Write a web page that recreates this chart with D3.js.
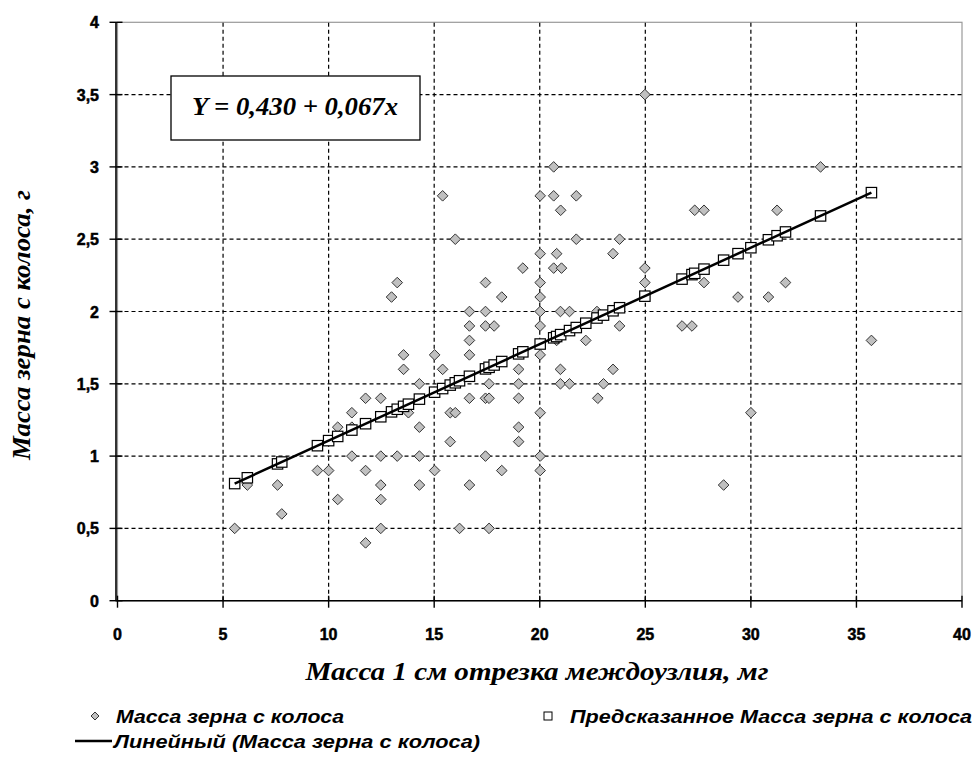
<!DOCTYPE html>
<html><head><meta charset="utf-8">
<script src="https://cdn.jsdelivr.net/npm/d3@7"></script>
<style>body{margin:0;background:#fff}</style>
</head><body>
<svg id="c" width="975" height="773"></svg>
<script>
// Observed: Масса 1 см отрезка междоузлия (мг) vs Масса зерна с колоса (г)
const obsX = [5.55,6.15,7.58,7.78,9.47,10.0,10.43,10.43,11.1,11.1,11.1,11.75,11.75,11.75,12.47,12.47,12.47,12.47,12.47,12.98,
13.25,13.25,13.55,13.55,13.78,14.3,14.3,14.3,14.3,15.02,15.02,15.4,15.4,15.76,15.76,16.0,16.0,16.2,16.67,16.67,
16.67,16.67,16.67,16.67,17.43,17.43,17.43,17.43,17.43,17.6,17.6,17.6,17.84,18.2,18.2,19.0,19.0,19.0,19.0,19.0,
19.2,20.02,20.02,20.02,20.02,20.02,20.02,20.02,20.02,20.02,20.02,20.66,20.66,20.66,20.8,20.8,20.99,21.03,20.98,20.98,
20.98,21.41,21.41,21.73,21.73,22.18,22.71,22.75,23.02,23.47,23.47,23.78,23.78,24.98,24.98,24.98,26.74,27.21,27.34,27.78,
27.78,28.71,29.39,30.0,30.83,31.24,31.64,33.3,35.71];
const obsY = [0.5,0.8,0.8,0.6,0.9,0.9,0.7,1.2,1.0,1.2,1.3,0.9,0.4,1.4,1.4,1.0,0.8,0.7,0.5,2.1,
2.2,1.0,1.7,1.6,1.3,1.5,1.2,1.0,0.8,1.7,0.9,2.8,1.6,1.3,1.1,1.3,2.5,0.5,2.0,1.9,
1.8,1.7,1.4,0.8,2.2,2.0,1.9,1.4,1.0,1.5,1.4,0.5,1.9,2.1,0.9,1.6,1.5,1.4,1.2,1.1,
2.3,2.8,2.4,2.2,2.1,2.0,1.9,1.7,1.3,1.0,0.9,3.0,2.8,2.3,2.4,1.8,2.7,2.3,2.0,1.6,
1.5,2.0,1.5,2.8,2.5,1.8,2.0,1.4,1.5,2.4,1.6,2.5,1.9,3.5,2.3,2.2,1.9,1.9,2.7,2.7,
2.2,0.8,2.1,1.3,2.1,2.7,2.2,3.0,1.8];

// Predicted values (squares)
const predX = [5.55,6.15,7.58,7.78,9.47,10.0,10.43,11.1,11.75,12.47,12.98,13.25,13.55,13.78,14.3,15.02,15.4,15.76,16.0,16.2,
16.67,17.43,17.6,17.84,18.2,19.0,19.2,20.02,20.66,20.8,20.99,21.41,21.73,22.18,22.71,23.02,23.47,23.78,24.98,26.74,
27.21,27.34,27.78,28.71,29.39,30.0,30.83,31.24,31.64,33.3,35.71];
const predY = [0.81,0.85,0.946,0.959,1.072,1.107,1.136,1.18,1.224,1.272,1.306,1.324,1.344,1.359,1.394,1.442,1.467,1.491,1.507,1.521,
1.552,1.603,1.614,1.63,1.654,1.707,1.721,1.775,1.818,1.827,1.84,1.868,1.889,1.919,1.955,1.975,2.005,2.026,2.106,2.224,
2.255,2.264,2.293,2.355,2.4,2.441,2.496,2.524,2.55,2.661,2.822];

// Linear trend (endpoints)
const trendX = [5.55, 35.71];
const trendY = [0.81, 2.822];

const xTicks = [0,5,10,15,20,25,30,35,40];
const xTickLabels = ["0","5","10","15","20","25","30","35","40"];
const yTicks = [0,0.5,1,1.5,2,2.5,3,3.5,4];
const yTickLabels = ["0","0,5","1","1,5","2","2,5","3","3,5","4"];

const equation = "Y = 0,430 + 0,067x";
const xTitle = "Масса 1 см отрезка междоузлия, мг";
const yTitle = "Масса зерна с колоса, г";
const legendObs = "Масса зерна с колоса";
const legendPred = "Предсказанное Масса зерна с колоса";
const legendTrend = "Линейный (Масса зерна с колоса)";

const svg = d3.select("#c");
const x = d3.scaleLinear().domain([0,40]).range([117.5,962]);
const y = d3.scaleLinear().domain([0,4]).range([600.7,22.3]);
const sans = "Liberation Sans, Arial, sans-serif";
const serif = "Liberation Serif, Times New Roman, serif";

// Plot border (top/right gray)
svg.append("rect").attr("x",x(0)).attr("y",y(4)).attr("width",x(40)-x(0)).attr("height",y(0)-y(4))
  .attr("fill","none").attr("stroke","#999").attr("stroke-width",1.2);

// Gridlines
const g = svg.append("g");
g.selectAll(".vg").data(xTicks.filter(d=>d>0&&d<40)).join("line")
  .attr("x1",d=>x(d)).attr("x2",d=>x(d)).attr("y1",y(0)).attr("y2",y(4))
  .attr("stroke","#000").attr("stroke-width",1.2).attr("stroke-dasharray","4,3");
g.selectAll(".hg").data(yTicks.filter(d=>d>0&&d<4)).join("line")
  .attr("x1",x(0)).attr("x2",x(40)).attr("y1",d=>y(d)).attr("y2",d=>y(d))
  .attr("stroke","#000").attr("stroke-width",1.2).attr("stroke-dasharray","4,3");

// Axes lines
svg.append("line").attr("x1",x(0)-1.5).attr("x2",x(0)-1.5).attr("y1",y(0)).attr("y2",y(4)).attr("stroke","#000").attr("stroke-width",1.6);
svg.append("line").attr("x1",x(0)-2).attr("x2",x(40)).attr("y1",y(0)).attr("y2",y(0)).attr("stroke","#000").attr("stroke-width",1.6);

// Ticks (crossing)
svg.selectAll(".xt").data(xTicks).join("line")
  .attr("x1",d=>x(d)).attr("x2",d=>x(d)).attr("y1",y(0)-5).attr("y2",y(0)+7)
  .attr("stroke","#000").attr("stroke-width",1.4);
svg.selectAll(".yt").data(yTicks).join("line")
  .attr("x1",x(0)-8).attr("x2",x(0)+5).attr("y1",d=>y(d)).attr("y2",d=>y(d))
  .attr("stroke","#000").attr("stroke-width",1.4);

// Tick labels
svg.selectAll(".xl").data(xTicks).join("text")
  .attr("x",d=>x(d)).attr("y",y(0)+39).attr("text-anchor","middle")
  .attr("font-family",sans).attr("font-weight","bold").attr("font-size",16)
  .attr("stroke","#000").attr("stroke-width",0.5)
  .text((d,i)=>xTickLabels[i]);
svg.selectAll(".yl").data(yTicks).join("text")
  .attr("x",99).attr("y",d=>y(d)+6).attr("text-anchor","end")
  .attr("font-family",sans).attr("font-weight","bold").attr("font-size",16)
  .attr("stroke","#000").attr("stroke-width",0.5)
  .text((d,i)=>yTickLabels[i]);

// Observed diamonds
const dia = 5.3;
svg.append("g").selectAll("path").data(obsX.map((d,i)=>[d,obsY[i]])).join("path")
  .attr("d",d=>`M${x(d[0])},${y(d[1])-dia}L${x(d[0])+dia},${y(d[1])}L${x(d[0])},${y(d[1])+dia}L${x(d[0])-dia},${y(d[1])}Z`)
  .attr("fill","#c0c0c0").attr("stroke","#333").attr("stroke-width",1);

// Predicted squares
const sq = 5.2;
svg.append("g").selectAll("rect").data(predX.map((d,i)=>[d,predY[i]])).join("rect")
  .attr("x",d=>x(d[0])-sq).attr("y",d=>y(d[1])-sq).attr("width",2*sq).attr("height",2*sq)
  .attr("fill","#fff").attr("stroke","#000").attr("stroke-width",1.2);

// Trend line
svg.append("path").datum(trendX.map((d,i)=>[d,trendY[i]]))
  .attr("d",d3.line().x(d=>x(d[0])).y(d=>y(d[1])))
  .attr("stroke","#000").attr("stroke-width",2.5).attr("fill","none");

// Equation box
svg.append("rect").attr("x",171).attr("y",76).attr("width",249).attr("height",64)
  .attr("fill","#fff").attr("stroke","#000").attr("stroke-width",1.3);
svg.append("text").attr("x",295).attr("y",115).attr("text-anchor","middle")
  .attr("font-family",serif).attr("font-weight","bold").attr("font-style","italic")
  .attr("font-size",25).attr("textLength",206).attr("lengthAdjust","spacingAndGlyphs").text(equation);

// Axis titles
svg.append("text").attr("x",537).attr("y",680).attr("text-anchor","middle")
  .attr("font-family",serif).attr("font-weight","bold").attr("font-style","italic")
  .attr("font-size",25).attr("textLength",463).attr("lengthAdjust","spacingAndGlyphs").text(xTitle);
svg.append("text").attr("transform","translate(30,325) rotate(-90)").attr("text-anchor","middle")
  .attr("font-family",serif).attr("font-weight","bold").attr("font-style","italic")
  .attr("font-size",25).attr("textLength",270).attr("lengthAdjust","spacingAndGlyphs").text(yTitle);

// Legend
const ld = 4;
svg.append("path").attr("d",`M95,${716-ld}L${95+ld},716L95,${716+ld}L${95-ld},716Z`)
  .attr("fill","#c0c0c0").attr("stroke","#333").attr("stroke-width",1);
svg.append("text").attr("x",116).attr("y",723).attr("font-family",sans).attr("font-weight","bold").attr("font-style","italic")
  .attr("font-size",19).attr("textLength",228).attr("lengthAdjust","spacingAndGlyphs").text(legendObs);
svg.append("rect").attr("x",544).attr("y",712).attr("width",8).attr("height",8)
  .attr("fill","#fff").attr("stroke","#000").attr("stroke-width",1);
svg.append("text").attr("x",570).attr("y",723).attr("font-family",sans).attr("font-weight","bold").attr("font-style","italic")
  .attr("font-size",19).attr("textLength",402).attr("lengthAdjust","spacingAndGlyphs").text(legendPred);
svg.append("line").attr("x1",75).attr("x2",112).attr("y1",741).attr("y2",741).attr("stroke","#000").attr("stroke-width",2.5);
svg.append("text").attr("x",114).attr("y",748).attr("font-family",sans).attr("font-weight","bold").attr("font-style","italic")
  .attr("font-size",19).attr("textLength",366).attr("lengthAdjust","spacingAndGlyphs").text(legendTrend);
</script>
</body></html>
